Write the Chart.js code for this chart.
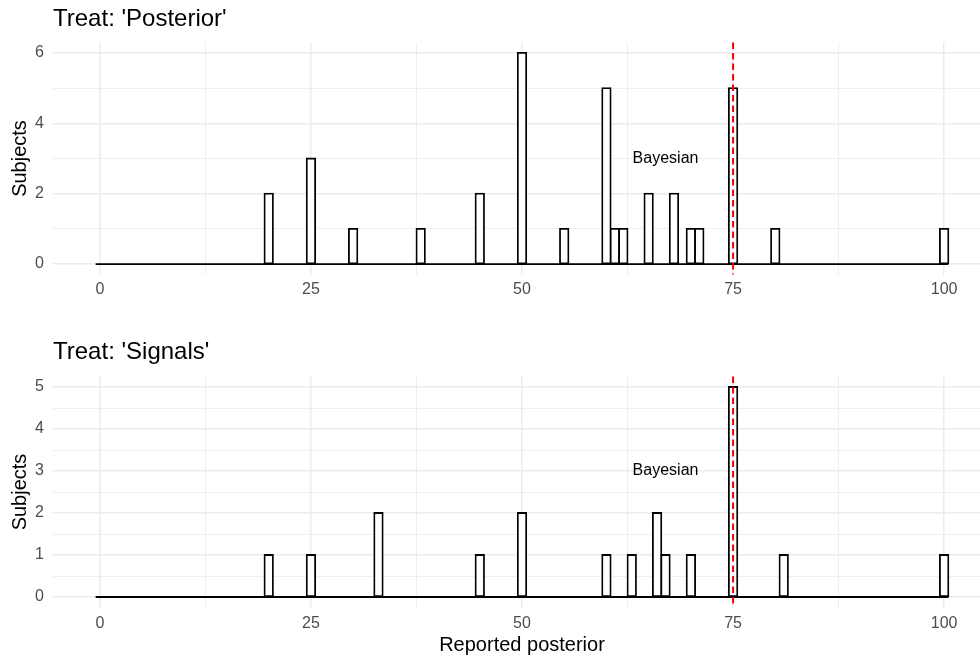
<!DOCTYPE html>
<html>
<head>
<meta charset="utf-8">
<script src="https://cdn.jsdelivr.net/npm/chart.js@4.4.1/dist/chart.umd.min.js"></script>
<style>
  html, body { margin: 0; padding: 0; background: #ffffff; overflow: hidden; width: 980px; height: 663px; }
  #wrap { position: relative; width: 996px; height: 663px; }
  canvas { position: absolute; left: 0; display: block; }
  #c1 { top: 0; }
  #c2 { top: 310px; }
</style>
</head>
<body>
<div id="wrap">
  <canvas id="c1" width="996" height="310"></canvas>
  <canvas id="c2" width="996" height="353"></canvas>
</div>
<script>
// ---------------- data ----------------
const binRange = [0, 100];                 // histogram bins (width 1, centred on integers)
const xTickLabels = [0, 25, 50, 75, 100];

const posteriorTitle = "Treat: 'Posterior'";
const posteriorValues = [20, 25, 30, 38, 45, 50, 55, 60, 61, 62, 65, 68, 70, 71, 75, 80, 100];
const posteriorCounts = [2, 3, 1, 1, 2, 6, 1, 5, 1, 1, 2, 2, 1, 1, 5, 1, 1];
const posteriorYTicks = [0, 2, 4, 6];

const signalsTitle = "Treat: 'Signals'";
const signalsValues = [20, 25, 33, 45, 50, 60, 63, 66, 67, 70, 75, 81, 100];
const signalsCounts = [1, 1, 2, 1, 2, 1, 1, 2, 1, 1, 5, 1, 1];
const signalsYTicks = [0, 1, 2, 3, 4, 5];

const bayesianValue = 75;
const annotationLabel = "Bayesian";
const annotationX = 67;
const annotationY = 3;

const yTitle = "Subjects";
const xTitle = "Reported posterior";

// ---------------- helpers ----------------
Chart.defaults.font.family = "'Liberation Sans', Arial, Helvetica, sans-serif";

function buildBins(values, counts) {
  const lookup = new Map(values.map((v, i) => [v, counts[i]]));
  const out = [];
  for (let b = binRange[0]; b <= binRange[1]; b++) out.push({ x: b, y: lookup.get(b) || 0 });
  return out;
}
function withMinor(major) {
  const out = [];
  for (let i = 0; i < major.length; i++) {
    out.push(major[i]);
    if (i < major.length - 1) out.push((major[i] + major[i + 1]) / 2);
  }
  return out;
}

const refPlugin = {
  id: 'refline',
  afterDatasetsDraw(chart) {
    const { ctx, chartArea, scales: { x, y } } = chart;
    const px = x.getPixelForValue(bayesianValue);
    ctx.save();
    ctx.strokeStyle = '#FF0000';
    ctx.lineWidth = 2;
    ctx.setLineDash([6.5, 4]);
    ctx.beginPath();
    ctx.moveTo(px, chartArea.top);
    ctx.lineTo(px, chartArea.bottom);
    ctx.stroke();
    ctx.setLineDash([]);
    ctx.fillStyle = '#000000';
    ctx.font = "16px 'Liberation Sans', Arial, sans-serif";
    ctx.textAlign = 'center';
    ctx.textBaseline = 'middle';
    ctx.fillText(annotationLabel, x.getPixelForValue(annotationX), y.getPixelForValue(annotationY));
    ctx.restore();
  }
};

function makePanel(id, title, values, counts, yTicks, cfg) {
  const bins = buildBins(values, counts);
  const maxCount = Math.max(...counts);
  const yPad = 0.05 * maxCount;
  const xPad = 0.05 * (binRange[1] - binRange[0] + 1);
  const xMin = binRange[0] - 0.5 - xPad;
  const xMax = binRange[1] + 0.5 + xPad;
  const xAll = withMinor(xTickLabels);
  const yAll = withMinor(yTicks);
  const xMajor = new Set(xTickLabels);
  const yMajor = new Set(yTicks);

  new Chart(document.getElementById(id), {
    type: 'bar',
    data: {
      datasets: [
        {
          type: 'line',
          data: [{ x: binRange[0] - 0.5, y: 0 }, { x: binRange[1] + 0.5, y: 0 }],
          borderColor: '#000000',
          borderWidth: 1.8,
          pointRadius: 0,
          order: 1
        },
        {
          type: 'bar',
          data: bins,
          backgroundColor: c => (c.raw && c.raw.y > 0) ? '#ffffff' : 'rgba(0,0,0,0)',
          borderColor: c => (c.raw && c.raw.y > 0) ? '#000000' : 'rgba(0,0,0,0)',
          borderWidth: 1.8,
          borderSkipped: false,
          inflateAmount: 0.9,
          barPercentage: 1,
          categoryPercentage: 1,
          order: 2
        }
      ]
    },
    options: {
      responsive: false,
      animation: false,
      events: [],
      layout: { padding: { right: 5 } },
      plugins: {
        legend: { display: false },
        tooltip: { enabled: false },
        title: {
          display: true,
          text: title,
          align: 'start',
          fullSize: false,
          color: '#000000',
          font: { size: 24, weight: 'normal' },
          padding: cfg.titlePadding
        }
      },
      scales: {
        x: {
          type: 'linear',
          min: xMin,
          max: xMax,
          bounds: 'data',
          offset: false,
          grid: {
            offset: false,
            color: '#EBEBEB',
            lineWidth: c => (c.tick && xMajor.has(c.tick.value)) ? 1.5 : 0.8,
            drawTicks: false
          },
          border: { display: false },
          afterBuildTicks: s => { s.ticks = xAll.map(v => ({ value: v })); },
          afterFit: s => { s.height = cfg.height - cfg.bottom; },
          ticks: {
            autoSkip: false,
            maxRotation: 0,
            padding: cfg.xTickPad,
            color: '#4D4D4D',
            font: { size: 16 },
            callback: v => xMajor.has(v) ? String(v) : ''
          },
          title: cfg.showXTitle ? {
            display: true,
            text: xTitle,
            color: '#000000',
            font: { size: 20 },
            padding: { top: 0, bottom: 6 }
          } : { display: false }
        },
        y: {
          type: 'linear',
          min: -yPad,
          max: maxCount + yPad,
          bounds: 'data',
          grid: {
            color: '#EBEBEB',
            lineWidth: c => (c.tick && yMajor.has(c.tick.value)) ? 1.5 : 0.8,
            drawTicks: false
          },
          border: { display: false },
          afterBuildTicks: s => { s.ticks = yAll.map(v => ({ value: v })); },
          afterFit: s => { s.width = 53; },
          ticks: {
            autoSkip: false,
            padding: 9,
            color: '#4D4D4D',
            font: { size: 16 },
            callback: v => yMajor.has(v) ? String(v) : ''
          },
          title: {
            display: true,
            text: yTitle,
            color: '#000000',
            font: { size: 20 },
            padding: { top: 8, bottom: 0 }
          }
        }
      }
    },
    plugins: [refPlugin]
  });
}

makePanel('c1', posteriorTitle, posteriorValues, posteriorCounts, posteriorYTicks, {
  height: 310, bottom: 274.6, xTickPad: 5, showXTitle: false,
  titlePadding: { top: 5, bottom: 8.6 }
});
makePanel('c2', signalsTitle, signalsValues, signalsCounts, signalsYTicks, {
  height: 353, bottom: 297.5, xTickPad: 6, showXTitle: true,
  titlePadding: { top: 27.6, bottom: 10.1 }
});
</script>
</body>
</html>
